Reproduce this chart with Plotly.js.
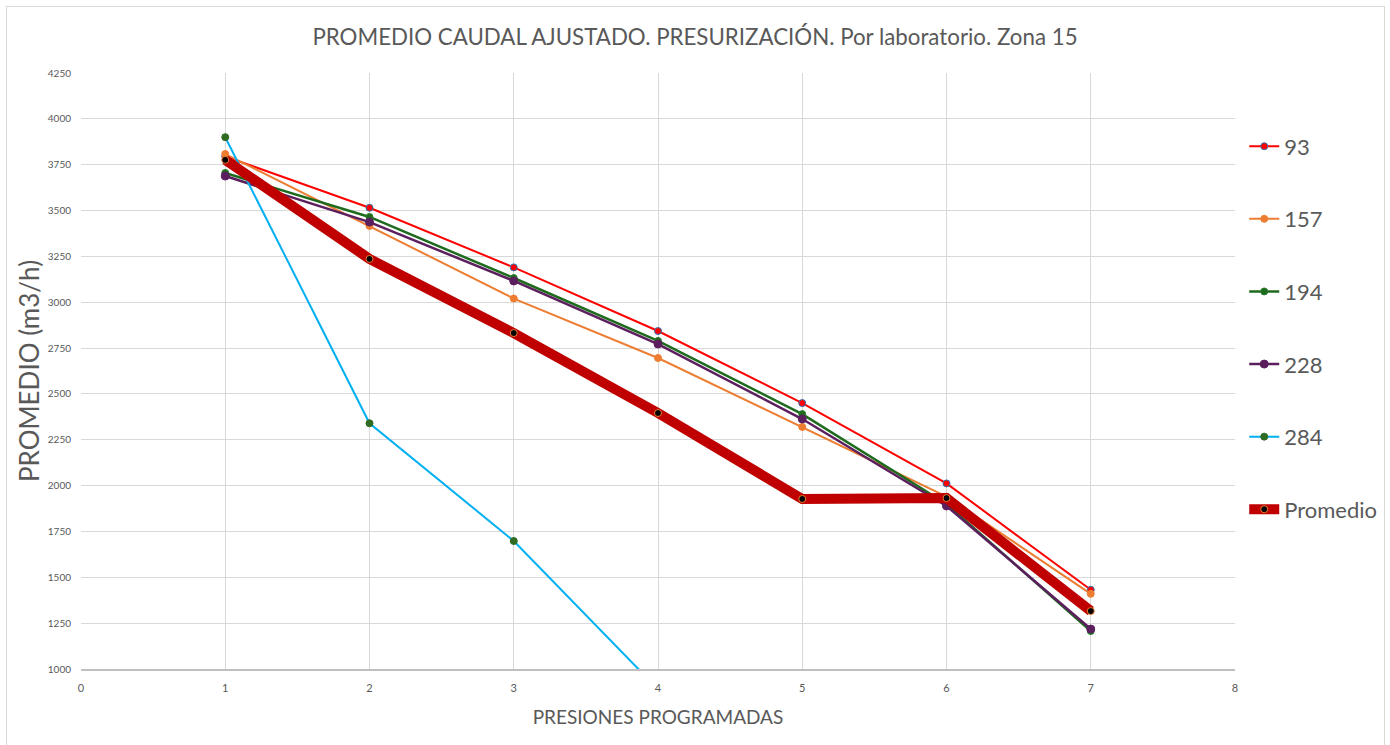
<!DOCTYPE html>
<html>
<head>
<meta charset="utf-8">
<script src="https://cdn.plot.ly/plotly-3.0.1.min.js"></script>
<style>
  html, body { margin: 0; padding: 0; background: #fff; }
  #chart { width: 1390px; height: 745px; }
  #frame { position: absolute; left: 6px; top: 6px; width: 1377px; height: 760px; border: 1px solid #d9d9d9; pointer-events: none; }
</style>
</head>
<body>
<div id="chart"></div>
<div id="frame"></div>
<script>
const presiones = [1, 2, 3, 4, 5, 6, 7];
const s93  = [3795, 3515, 3190, 2843, 2450, 2012, 1432];
const s157 = [3808, 3416, 3020, 2696, 2320, 1940, 1410];
const s194 = [3705, 3465, 3132, 2789, 2390, 1900, 1207];
const s228 = [3688, 3437, 3116, 2772, 2363, 1889, 1218];
const s284 = [3900, 2340, 1698, 890, 700, 500, 300];
const promedio = [3776, 3236, 2832, 2396, 1927, 1932, 1316];
const yTicks = [1000, 1250, 1500, 1750, 2000, 2250, 2500, 2750, 3000, 3250, 3500, 3750, 4000, 4250];
const xTicks = [0, 1, 2, 3, 4, 5, 6, 7, 8];

const FONT = 'Lato, "Open Sans", sans-serif';
const GRAY = '#595959';

function tr(name, y, color, mcolor, mline, width, msize) {
  return {
    x: presiones, y: y, name: name, type: 'scatter', mode: 'lines+markers',
    legendgroup: name,
    line: { color: color, width: width },
    marker: { color: mcolor, size: msize, line: { color: mline, width: 1 } },
    cliponaxis: true
  };
}

const data = [
  tr('93', s93, '#ff0000', '#ff0000', '#2e75b6', 2, 7),
  tr('157', s157, '#ed7d31', '#ed7d31', '#ed7d31', 2, 7),
  tr('194', s194, '#1e6b1e', '#1e6b1e', '#2e7d32', 2.5, 7),
  tr('228', s228, '#5c1f5e', '#5c1f5e', '#5c1f5e', 2.5, 8),
  tr('284', s284, '#00b0f0', '#2f6b22', '#2f6b22', 2, 7),
  tr('Promedio', promedio, '#c00000', '#000000', '#ed7d31', 10, 7)
];

const layout = {
  width: 1390, height: 745,
  margin: { l: 81, r: 155, t: 73, b: 76, autoexpand: false },
  paper_bgcolor: '#ffffff', plot_bgcolor: '#ffffff',
  font: { family: FONT, color: GRAY },
  title: {
    text: 'PROMEDIO CAUDAL AJUSTADO. PRESURIZACIÓN. Por laboratorio. Zona 15',
    font: { family: FONT, size: 22.3, color: GRAY },
    x: 0.5, xanchor: 'center', y: 0.95, yanchor: 'middle'
  },
  xaxis: {
    range: [0, 8], tickvals: xTicks, ticktext: xTicks.map(String),
    showgrid: true, gridcolor: '#d9d9d9', gridwidth: 1,
    zeroline: false, showline: true, linecolor: '#bfbfbf', linewidth: 1.5,
    ticks: '', tickfont: { size: 11, color: GRAY }, ticklabelstandoff: 8,
    title: { text: 'PRESIONES PROGRAMADAS', font: { size: 19, color: GRAY }, standoff: 18 }
  },
  yaxis: {
    range: [1000, 4250], tickvals: yTicks, ticktext: yTicks.map(String),
    showgrid: true, gridcolor: '#d9d9d9', gridwidth: 1,
    zeroline: false, showline: false,
    ticks: '', tickfont: { size: 10, color: GRAY }, ticklabelstandoff: 9,
    title: { text: 'PROMEDIO (m3/h)', font: { size: 26, color: GRAY }, standoff: 0 }
  },
  legend: {
    x: 1.008, xanchor: 'left', y: 0.912, yanchor: 'top',
    font: { size: 22, color: GRAY, family: FONT },
    tracegroupgap: 41, itemwidth: 30, bgcolor: 'rgba(0,0,0,0)'
  },
  showlegend: true
};

Plotly.newPlot('chart', data, layout, { displayModeBar: false, staticPlot: true });
</script>
</body>
</html>
